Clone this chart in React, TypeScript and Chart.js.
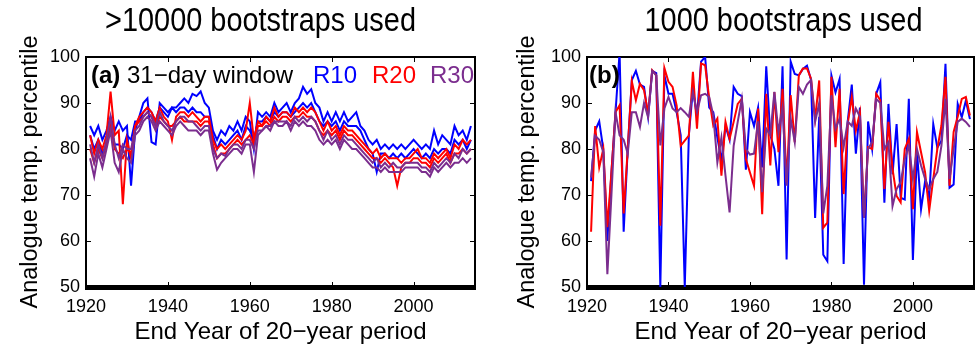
import React, { useEffect, useRef } from 'react';
import { Chart, registerables } from 'chart.js';
Chart.register(...registerables);

const firstYear = 1921;
const lastYear = 2014;
const years = Array.from({ length: lastYear - firstYear + 1 }, (_, i) => firstYear + i);
const xTicks = [1920, 1940, 1960, 1980, 2000];
const yTicks = [50, 60, 70, 80, 90, 100];

// Panel (a): >10000 bootstraps, two lines per threshold
const aR10hi = [85, 83, 85, 82, 84, 87, 84, 86, 84, 85, 72, 84, 87, 90, 91, 81.5, 81, 90, 89, 88,
  89, 89, 90, 91, 90, 92, 91.5, 92.5, 90, 89, 84, 82, 84, 83, 85, 84, 86, 84, 87, 86,
  80, 88, 87, 88, 87, 90, 88, 89, 90, 88, 90, 91, 93.5, 92, 93, 90, 89, 86, 88, 86,
  88, 86, 88, 86, 87, 88, 85, 84, 82, 81, 82, 80, 81, 80, 81, 80, 81, 80, 81, 82,
  81, 80, 81, 80, 84, 81, 83, 82, 81, 85, 83, 84, 82, 85];
const aR10lo = [83, 80, 82, 79, 81, 85, 81, 81, 80, 83, 82, 86, 86, 88, 89, 88, 86, 89, 88, 87,
  89, 88, 89, 89, 88, 89, 88, 88, 87, 87, 83, 80, 82, 81, 82, 83, 84, 82, 85, 84,
  82, 86, 86, 87, 86, 88, 87, 88, 88, 87, 88, 89, 90, 89, 90, 88, 86, 85, 86, 85,
  86, 84, 86, 85, 85, 85, 84, 82, 80, 79, 75, 79, 79, 78, 79, 78, 79, 78, 79, 80,
  79, 78, 79, 78, 80, 79, 80, 80, 79, 82, 81, 82, 80, 82];
const aR20hi = [83, 79, 82, 80, 83, 92.5, 83, 84, 68, 82, 78, 85, 87, 88, 89, 88, 86, 89, 87, 86,
  82, 87, 88, 88, 87, 88, 87, 86, 87, 87, 82, 80, 81, 80, 81, 82, 83, 82, 84, 90,
  82, 86, 85, 87, 86, 89, 87, 88, 88, 87, 89, 88, 89, 88, 89, 88, 86, 84, 86, 84,
  85, 83, 85, 84, 84, 83, 82, 81, 80, 79, 80, 78, 79, 78, 78, 78, 77, 78, 78, 79,
  80, 78, 78, 77, 79, 78, 79, 80, 78, 81, 80, 82, 81, 82];
const aR20lo = [80, 77, 80, 78, 81, 86, 80, 79, 78, 80, 79, 85, 86, 87, 88, 87, 85, 87, 86, 85,
  85, 86, 87, 86, 86, 86, 86, 85, 86, 86, 81, 78, 79, 79, 80, 81, 82, 81, 82, 83,
  81, 85, 85, 86, 85, 87, 86, 87, 87, 86, 87, 87, 88, 87, 87, 86, 84, 83, 84, 83,
  84, 82, 84, 83, 83, 82, 81, 80, 79, 78, 78, 77, 78, 77, 76, 72, 76, 77, 77, 78,
  78, 77, 77, 76, 78, 77, 78, 79, 77, 79, 79, 80, 79, 80];
const aR30hi = [81, 77, 81, 78, 82, 87, 81, 78, 81, 80, 80, 84, 85, 87, 88, 87, 85, 88, 86, 85,
  84, 86, 87, 87, 86, 86, 85, 84, 85, 85, 80, 78, 79, 78.5, 80, 81, 81, 80, 82, 82,
  80, 84, 84, 85, 85, 86, 86, 86, 86, 85, 87, 86, 87, 86, 87, 86, 84, 82, 84, 82,
  83, 81, 83, 82, 82, 81, 80, 79, 78, 77, 78, 76, 77, 76, 77, 76, 76, 77, 77, 77,
  77, 76, 76, 75, 77, 76, 77, 78, 77, 79, 78, 80, 79, 80];
const aR30lo = [78, 74, 79, 76, 80, 84, 77, 75, 80, 78, 77, 83, 84, 86, 87, 86, 84, 86, 85, 84,
  83, 85, 86, 85, 84, 84, 84, 83, 84, 84, 79, 75.5, 77, 78, 79, 80, 80, 79, 81, 81,
  75, 83, 84, 85, 84, 86, 85, 85, 86, 84, 86, 85, 86, 85, 85, 84, 82, 81, 82, 81,
  82, 80, 82, 81, 80, 80, 79, 78, 77, 76, 76, 75, 76, 75, 75, 75, 75, 76, 76, 76,
  76, 75, 75, 74, 76, 75, 76, 77, 76, 77, 77, 78, 77, 78];

// Panel (b): 1000 bootstraps
const bR10 = [73, 84, 86, 80, 60, 75, 88, 101, 62, 80, 95, 97, 94, 93.5, 87, 97, 96.5, 50, 96, 92,
  92, 88, 83, 50, 83, 93, 87, 99, 100, 89, 88, 82.5, 77.5, 85, 82, 93.5, 92, 91.5, 75.5, 88,
  85, 89, 76, 98, 83, 80, 72, 98, 56, 99, 96.3, 96, 97.4, 98.1, 95, 65, 87, 57, 55.6, 96,
  92.3, 95.2, 55, 86, 94, 79, 89, 50.5, 86, 80, 92, 94.5, 68.3, 89.8, 74.5, 85.4, 69.4, 69, 90.9, 55.9,
  79.6, 66.9, 73, 69.4, 85.4, 80.3, 81.8, 98.5, 71.6, 72.3, 89.8, 86.9, 90.5, 86.5];
const bR20 = [62, 85, 76, 80, 63, 75, 88, 89.5, 66, 80, 94.7, 90.6, 94.2, 92.8, 87.7, 97.1, 96, 63.3, 97.6, 94.6,
  93.5, 89.5, 80.7, 81.8, 82.9, 96.8, 84.4, 98.6, 98.2, 91, 85.1, 86.6, 74.2, 85.9, 82.2, 85.9, 89.8, 90.9, 77.8, 74.9,
  72, 88.8, 65.8, 92, 76.4, 92.4, 79.3, 93.1, 72.8, 91.7, 81.5, 96, 97.5, 97.5, 95.3, 86.6, 94.9, 62.9, 64, 95.7,
  80.4, 93.1, 70.2, 85.5, 91.3, 84, 88, 65.1, 80.4, 80, 92, 90.6, 71.3, 85.9, 75.7, 69.8, 68.4, 80, 82.2, 66.9,
  83.7, 79.3, 74.9, 66.6, 73.5, 80, 85.1, 95.7, 72, 83.7, 87, 90.9, 91.3, 87.3];
const bR30 = [73.8, 82.9, 82, 79.3, 52.8, 70, 88, 83, 82, 79, 88, 88, 84.8, 90, 86.9, 97, 96, 80.8, 88.8, 91.3,
  88.8, 88, 88.9, 88, 87, 92.4, 88, 91.7, 92, 91.3, 87.3, 77.1, 82.5, 74.2, 66.2, 80.7, 85.9, 90.9, 80, 78.8,
  79, 86, 70.6, 84.4, 83, 92.4, 83.7, 89, 72, 86.6, 81.5, 93.5, 92, 94, 95, 85.9, 90, 66, 72, 91.7,
  84.4, 86.6, 80.4, 86, 85, 88.8, 87, 65, 80, 81.5, 90.9, 90, 80, 81.5, 67.6, 71.3, 72.8, 77.8, 80.7, 73.5,
  80, 76.4, 73.5, 71.3, 73.5, 75, 80.7, 90.9, 73.5, 80, 85.9, 86.6, 85.9, 84.8];

const BLUE = '#0000ff';
const RED = '#ff0000';
const PURPLE = '#7b2d8e';
const SANS = "'Liberation Sans', Arial, sans-serif";

const toPts = (vals: number[]) => vals.map((v, i) => ({ x: years[i], y: v }));
const ds = (vals: number[], color: string) => ({
  data: toPts(vals), borderColor: color, backgroundColor: color, borderWidth: 2,
  pointRadius: 0, tension: 0, fill: false,
});

const framePlugin = {
  id: 'frame',
  beforeDatasetsDraw(chart: any) {
    const { ctx, chartArea: { left, right, top, bottom }, scales: { x, y } } = chart;
    ctx.save();
    ctx.strokeStyle = '#000';
    ctx.lineWidth = 2;
    ctx.strokeRect(left, top, right - left, bottom - top);
    ctx.fillStyle = '#000';
    ctx.fillRect(left - 1, bottom - 2, right - left + 2, 5);
    ctx.lineWidth = 1;
    ctx.beginPath();
    for (const v of xTicks) {
      const px = Math.round(x.getPixelForValue(v)) + 0.5;
      ctx.moveTo(px, top); ctx.lineTo(px, top + 5);
      ctx.moveTo(px, bottom); ctx.lineTo(px, bottom - 5);
    }
    for (const v of yTicks) {
      const py = Math.round(y.getPixelForValue(v)) + 0.5;
      ctx.moveTo(left, py); ctx.lineTo(left + 5, py);
      ctx.moveTo(right, py); ctx.lineTo(right - 5, py);
    }
    ctx.stroke();
    ctx.restore();
  },
  afterDraw(chart: any, _args: any, opts: any) {
    const { ctx, chartArea: { left, right, top } } = chart;
    ctx.save();
    ctx.fillStyle = '#000';
    ctx.textAlign = 'center';
    ctx.textBaseline = 'middle';
    ctx.font = `34px ${SANS}`;
    const cx = (left + right) / 2 + opts.titleDx;
    ctx.save();
    ctx.translate(cx, 22);
    ctx.scale(0.85, 1);
    ctx.fillText(opts.title, 0, 0);
    ctx.restore();
    ctx.textAlign = 'left';
    ctx.textBaseline = 'alphabetic';
    for (const l of opts.labels) {
      ctx.font = `${l.bold ? 'bold ' : ''}24px ${SANS}`;
      ctx.fillStyle = l.color;
      ctx.fillText(l.text, left + l.dx, top + 26);
    }
    ctx.restore();
  },
};

function makeChart(canvas: HTMLCanvasElement, p: any) {
  return new Chart(canvas, {
    type: 'line',
    data: { datasets: p.datasets },
    plugins: [framePlugin],
    options: {
      animation: false,
      responsive: false,
      events: [],
      layout: { padding: { left: 0, right: p.padRight, top: 57, bottom: 0 } },
      plugins: {
        legend: { display: false },
        tooltip: { enabled: false },
        title: { display: false },
        frame: { title: p.title, titleDx: p.titleDx, labels: p.labels },
      } as any,
      scales: {
        x: {
          type: 'linear', min: 1920, max: 2015,
          afterBuildTicks: (s: any) => { s.ticks = xTicks.map((v) => ({ value: v })); },
          afterFit: (s: any) => { s.height = 67; },
          grid: { display: false, drawTicks: false },
          border: { display: false },
          ticks: { color: '#000', font: { family: SANS, size: 18 }, padding: 9, maxRotation: 0, autoSkip: false, callback: (v: any) => String(v) },
          title: { display: true, text: 'End Year of 20−year period', color: '#000', font: { family: SANS, size: 24 }, padding: { top: 0, bottom: 7 } },
        },
        y: {
          min: 50, max: 100,
          afterBuildTicks: (s: any) => { s.ticks = yTicks.map((v) => ({ value: v })); },
          afterFit: (s: any) => { s.width = p.yWidth; },
          grid: { display: false, drawTicks: false },
          border: { display: false },
          ticks: { color: '#000', font: { family: SANS, size: 18 }, padding: 6 },
          title: { display: true, text: 'Analogue temp. percentile', color: '#000', font: { family: SANS, size: 23.5 }, padding: { top: p.yTitlePad, bottom: 0 } },
        },
      },
    } as any,
  });
}

export default function App() {
  const leftRef = useRef<HTMLCanvasElement>(null);
  const rightRef = useRef<HTMLCanvasElement>(null);
  useEffect(() => {
    const a = makeChart(leftRef.current!, {
      datasets: [ds(aR30lo, PURPLE), ds(aR30hi, PURPLE), ds(aR20lo, RED), ds(aR20hi, RED), ds(aR10lo, BLUE), ds(aR10hi, BLUE)],
      padRight: 15, yWidth: 86, yTitlePad: 16, title: '>10000 bootstraps used', titleDx: -20,
      labels: [
        { text: '(a)', color: '#000', dx: 5, bold: true },
        { text: '31−day window', color: '#000', dx: 41 },
        { text: 'R10', color: BLUE, dx: 227 },
        { text: 'R20', color: RED, dx: 286 },
        { text: 'R30', color: PURPLE, dx: 344 },
      ],
    });
    const b = makeChart(rightRef.current!, {
      datasets: [ds(bR30, PURPLE), ds(bR20, RED), ds(bR10, BLUE)],
      padRight: 2, yWidth: 97, yTitlePad: 23, title: '1000 bootstraps used', titleDx: 3,
      labels: [{ text: '(b)', color: '#000', dx: 2, bold: true }],
    });
    return () => { a.destroy(); b.destroy(); };
  }, []);
  return (
    <div style={{ position: 'fixed', left: 0, top: 0, width: 976, height: 354, background: '#fff' }}>
      <div style={{ position: 'absolute', left: 0, top: 0 }}>
        <canvas ref={leftRef} width={490} height={354} style={{ display: 'block' }} />
      </div>
      <div style={{ position: 'absolute', left: 490, top: 0 }}>
        <canvas ref={rightRef} width={486} height={354} style={{ display: 'block' }} />
      </div>
    </div>
  );
}
